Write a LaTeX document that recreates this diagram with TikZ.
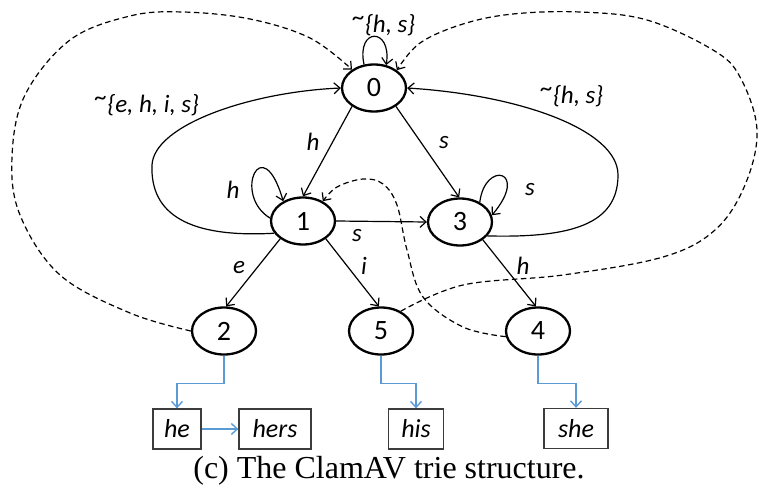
\documentclass[tikz,border=0pt]{standalone}
\usepackage{fontspec}
\setmainfont{Liberation Serif}
\newfontfamily\calfont{Carlito}
\usetikzlibrary{shapes.geometric,arrows.meta}
\definecolor{linkblue}{RGB}{91,155,213}
\definecolor{boxgray}{RGB}{60,60,60}
\newcommand{\rtilde}{\raisebox{0.28em}{\textasciitilde}}
\begin{document}
\begin{tikzpicture}[x=1pt,y=-1pt,
  stnode/.style={ellipse,draw,line width=2.3pt,minimum width=64pt,minimum height=47pt,inner sep=0pt,font=\calfont\fontsize{28}{30}\selectfont},
  wordbox/.style={rectangle,draw=boxgray,line width=1.3pt,minimum height=40pt,inner sep=0pt,font=\calfont\itshape\fontsize{26}{28}\selectfont},
  lbl/.style={font=\calfont\itshape\fontsize{25}{28}\selectfont,inner sep=0pt},
  tr/.style={line width=1.2pt,-{Straight Barb[length=6pt,width=11pt]}},
  fail/.style={tr,dash pattern=on 5.5pt off 3.5pt},
  outlink/.style={line width=1.4pt,draw=linkblue,-{Straight Barb[length=6pt,width=11pt]}}
]
\useasboundingbox (0,0) rectangle (759,489);

% states
\node[stnode] (n0) at (374,88) {0};
\node[stnode] (n1) at (303,221) {1};
\node[stnode] (n3) at (460,222) {3};
\node[stnode] (n2) at (224,331) {2};
\node[stnode] (n5) at (381,331) {5};
\node[stnode] (n4) at (538,331) {4};

% output lists
\node[wordbox,minimum width=48pt] (he) at (177,429) {he};
\node[wordbox,minimum width=72pt] (hers) at (275,429) {hers};
\node[wordbox,minimum width=55pt] (his) at (416,429) {his};
\node[wordbox,minimum width=64pt] (she) at (576,428.5) {she};

% trie edges
\draw[tr] (n0.220) -- (n1.90);
\draw[tr] (n0.320) -- (n3.92);
\draw[tr] (n1.east) -- (n3.west);
\draw[tr] (n1.218) -- (n2.85);
\draw[tr] (n1.322) -- (n5.95);
\draw[tr] (n3.322) -- (n4.95);

% self loops
\draw[tr] (n0.113) .. controls (356,27) and (392,27) .. (n0.62);
\draw[tr] (n1.175) .. controls (232,195) and (262,128) .. (n1.135);
\draw[tr] (n3.45) .. controls (485,160) and (530,170) .. (n3.12);

% back edges to root
\draw[tr] (n1.203) .. controls (190,238) and (150,215) .. (152,165) .. controls (154,125) and (250,92) .. (n0.west);
\draw[tr] (n3.333) .. controls (570,238) and (618,225) .. (618,175) .. controls (618,130) and (520,95) .. (n0.east);

% failure links
\draw[fail] plot[smooth,tension=0.6] coordinates {(n2.west) (130,313) (60,275) (20,215) (12,157) (25,95) (70,40) (130,16) (183,12) (250,19) (310,38) (n0.140)};
\draw[fail] plot[smooth,tension=0.6] coordinates {(n5.45) (463,285) (563,275) (663,257) (715,230) (745,185) (757,130) (740,77) (713,50) (647,20) (580,12) (513,14) (463,24) (420,43) (n0.38)};
\draw[fail] plot[smooth,tension=0.6] coordinates {(n4.190) (463,327) (423,297) (407,250) (397,205) (383,184) (363,179) (337,187) (n1.45)};

% output links
\draw[outlink] (n2.south) -- ++(0,28) -| (he.north);
\draw[outlink] (n5.south) -- ++(0,28) -| (his.north);
\draw[outlink] (n4.south) -- ++(0,28) -| (she.north);
\draw[outlink] (he.east) -- (hers.west);

% labels
\node[lbl] (l0) at (384,25) {\rtilde\{h, s\}};
\node[lbl] (lL) at (147,105) {\rtilde\{e, h, i, s\}};
\node[lbl] (lR) at (572,96) {\rtilde\{h, s\}};
\node[lbl] (l01) at (313,142) {h};
\node[lbl] (l03) at (444,143) {s};
\node[lbl] (l11) at (233,190) {h};
\node[lbl] (l33) at (530,190) {s};
\node[lbl] (l13) at (357,236) {s};
\node[lbl] (l15) at (364,266) {i};
\node[lbl] (l12) at (239,268) {e};
\node[lbl] (l34) at (523,266) {h};

% caption
\node[font=\fontsize{32}{36}\selectfont,inner sep=0pt] (cap) at (389,471) {(c) The ClamAV trie structure.};
\end{tikzpicture}
\end{document}
